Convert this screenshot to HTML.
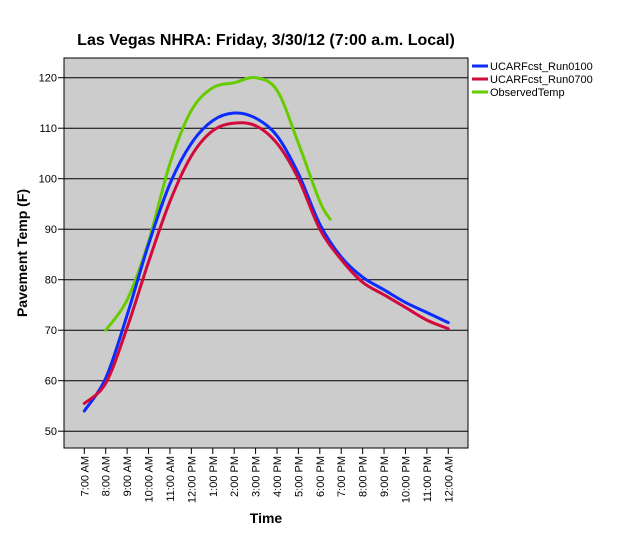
<!DOCTYPE html>
<html><head><style>body{margin:0;background:#fff}svg{display:block;font-family:"Liberation Sans",sans-serif}</style></head>
<body>
<svg id="s" width="625" height="540" xmlns="http://www.w3.org/2000/svg">
<rect width="625" height="540" fill="#fff"/>
<text x="266" y="45" text-anchor="middle" font-size="16" font-weight="bold">Las Vegas NHRA: Friday, 3/30/12 (7:00 a.m. Local)</text>
<rect x="64" y="58" width="404" height="390" fill="#cccccc" stroke="#000" stroke-width="1"/>
<g id="grid"></g>
<g id="series" fill="none" stroke-width="3" stroke-linejoin="round" stroke-linecap="round"></g>
<text transform="translate(27,253) rotate(-90)" text-anchor="middle" font-size="14" font-weight="bold">Pavement Temp (F)</text>
<text x="266" y="523" text-anchor="middle" font-size="14" font-weight="bold">Time</text>
<g font-size="11">
<line x1="472" y1="66" x2="488" y2="66" stroke="#0b2bff" stroke-width="3"/><text x="490" y="70">UCARFcst_Run0100</text>
<line x1="472" y1="79" x2="488" y2="79" stroke="#d20a3c" stroke-width="3"/><text x="490" y="83">UCARFcst_Run0700</text>
<line x1="472" y1="92" x2="488" y2="92" stroke="#66cc00" stroke-width="3"/><text x="490" y="96">ObservedTemp</text>
</g>
</svg>
<script>
const NS="http://www.w3.org/2000/svg";
const s=document.getElementById('grid');
const X=i=>84.3+i*21.41, Y=v=>77.7+(120-v)*5.05;
function el(t,a,p,txt){const e=document.createElementNS(NS,t);for(const k in a)e.setAttribute(k,a[k]);if(txt)e.textContent=txt;p.appendChild(e);return e;}
for(let v=50;v<=120;v+=10){const y=Y(v);el('line',{x1:64,x2:468,y1:y,y2:y,stroke:'#000','stroke-width':1},s);el('line',{x1:58,x2:64,y1:y,y2:y,stroke:'#000'},s);el('text',{x:57,y:y+4,'text-anchor':'end','font-size':11},s,v);}
const labs=["7:00 AM","8:00 AM","9:00 AM","10:00 AM","11:00 AM","12:00 PM","1:00 PM","2:00 PM","3:00 PM","4:00 PM","5:00 PM","6:00 PM","7:00 PM","8:00 PM","9:00 PM","10:00 PM","11:00 PM","12:00 AM"];
labs.forEach((l,i)=>{const x=X(i);el('line',{x1:x,x2:x,y1:448,y2:454,stroke:'#000'},s);el('text',{transform:`translate(${x+4},456) rotate(-90)`,'text-anchor':'end','font-size':11},s,l);});
function path(pts){let d=`M${pts[0][0]},${pts[0][1]}`;for(let i=0;i<pts.length-1;i++){const p0=pts[i-1]||pts[i],p1=pts[i],p2=pts[i+1],p3=pts[i+2]||p2;d+=` C${p1[0]+(p2[0]-p0[0])/6},${p1[1]+(p2[1]-p0[1])/6} ${p2[0]-(p3[0]-p1[0])/6},${p2[1]-(p3[1]-p1[1])/6} ${p2[0]},${p2[1]}`;}return d;}
const g=document.getElementById('series');
const blue=[54,60.5,73,87,99,107,111.5,113,112,108.5,101,91,84.5,80.5,78,75.5,73.5,71.5];
const red=[55.5,59.5,70.5,83.5,95.5,104.5,109.5,111,110.5,107,100,90,84,79.5,77,74.5,72,70.3];
const green=[[1,70],[2,76],[3,87.5],[4,103],[5,113.5],[6,118],[7,119],[8,120],[9,117.5],[10,107],[11,95.5],[11.48,92]];
el('path',{d:path(green.map(p=>[X(p[0]),Y(p[1])])),stroke:'#66cc00'},g);
el('path',{d:path(blue.map((v,i)=>[X(i),Y(v)])),stroke:'#0b2bff'},g);
el('path',{d:path(red.map((v,i)=>[X(i),Y(v)])),stroke:'#d20a3c'},g);
</script>
</body></html>
